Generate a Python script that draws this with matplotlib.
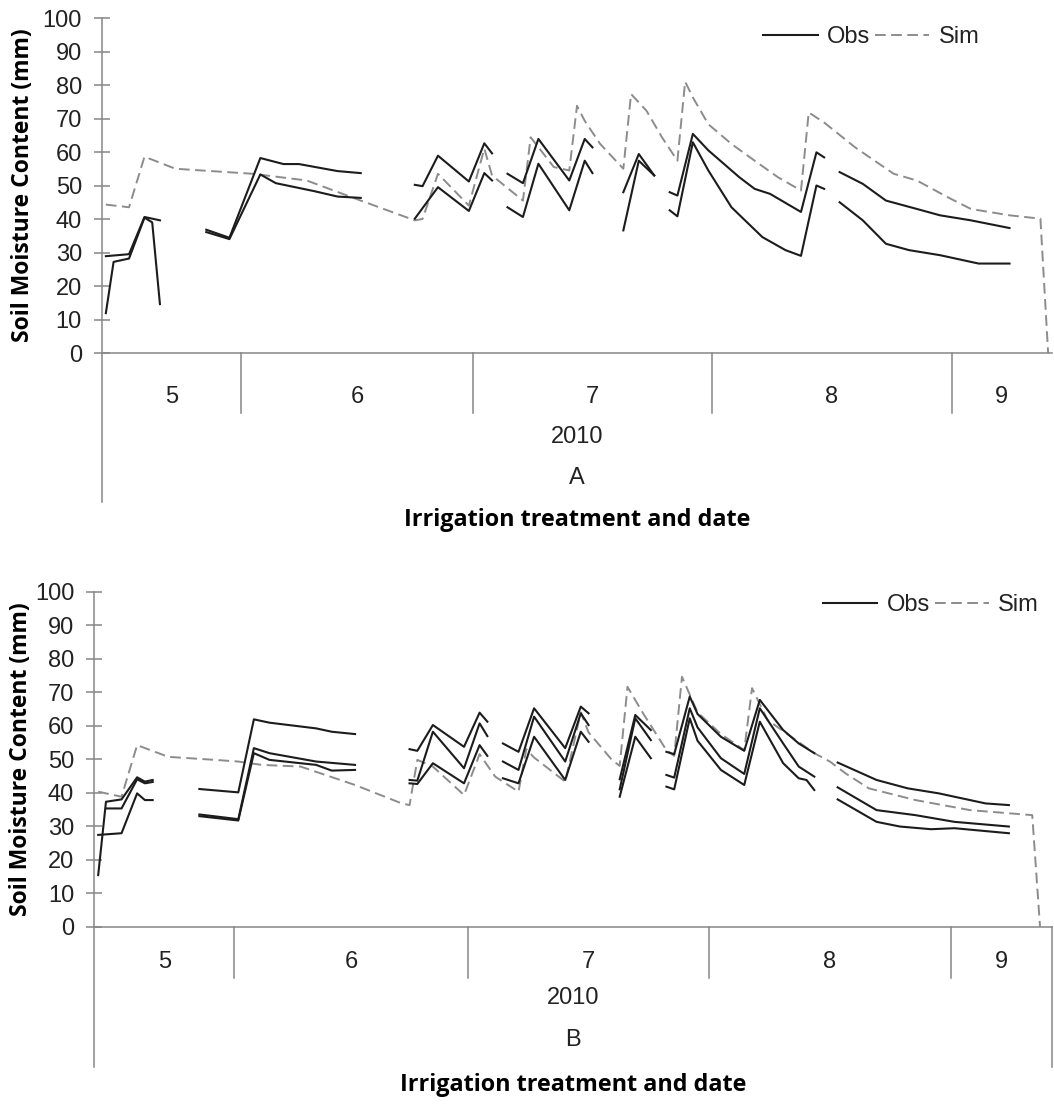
import numpy as np
import matplotlib
matplotlib.use("Agg")
import matplotlib.pyplot as plt
from matplotlib.transforms import blended_transform_factory

nan = np.nan

# category axis: one slot per day, index 0 = 14 May 2010
month_labels = ["5", "6", "7", "8", "9"]
month_edges = [-0.5, 17.5, 47.5, 78.5, 109.5, 122.5]
year_label = "2010"
y_ticks = list(range(0, 101, 10))

# ---- panel A ----
a_sim_days = [0, 3, 5, 9, 19, 26, 33, 40, 41, 43, 47, 49, 50, 54, 55, 58, 60, 61, 62, 64,
              67, 68, 70, 72, 74, 75, 76, 78, 81, 84, 87, 90, 91, 93, 97, 102, 105, 109,
              112, 117, 121, 122]
a_sim = [44.3, 43.5, 58.6, 55.0, 53.5, 51.5, 45.5, 39.6, 40.0, 53.5, 44.0, 61.0, 53.0, 45.5,
         64.4, 55.5, 54.5, 73.8, 69.3, 62.4, 55.0, 77.3, 72.3, 64.4, 57.4, 81.0, 76.3, 68.3,
         62.4, 57.4, 52.5, 48.5, 71.8, 68.8, 61.4, 53.5, 51.5, 46.5, 43.0, 41.1, 40.1, 0.0]

a_obs1_days = [0, 3, 5, 7, nan, 13, 16, 20, 23, 25, 30, 33, nan, 40, 41, 43, 47, 49, 50, nan,
               52, 54, 56, 60, 62, 63, nan, 67, 69, 71, nan, 73, 74, 76, 78, 82, 84, 86, 90,
               92, 93, nan, 95, 98, 101, 105, 108, 112, 117]
a_obs1 = [28.9, 29.5, 40.6, 39.6, nan, 36.8, 34.4, 58.2, 56.4, 56.4, 54.3, 53.7, nan, 50.2,
          49.8, 58.9, 51.2, 62.6, 59.6, nan, 53.5, 50.7, 63.9, 51.5, 63.9, 61.4, nan, 48.0,
          59.4, 53.0, nan, 48.0, 47.0, 65.4, 60.5, 52.5, 49.0, 47.5, 42.1, 59.9, 58.4, nan,
          54.0, 50.5, 45.5, 43.0, 41.1, 39.6, 37.3]

a_obs2_days = [0, 1, 3, 5, 6, 7, nan, 13, 16, 20, 22, 27, 30, 33, nan, 40, 43, 47, 49, 50, nan,
               52, 54, 56, 60, 62, 63, nan, 67, 69, 71, nan, 73, 74, 76, 78, 81, 85, 88, 90,
               92, 93, nan, 95, 98, 101, 104, 108, 113, 117]
a_obs2 = [11.9, 27.2, 28.2, 40.4, 39.0, 14.6, nan, 36.1, 34.0, 53.3, 50.7, 48.3, 46.7, 46.3,
          nan, 40.1, 49.5, 42.4, 53.7, 51.5, nan, 43.5, 40.6, 56.5, 42.6, 57.4, 53.7, nan,
          36.6, 57.4, 53.0, nan, 42.6, 40.8, 62.9, 54.5, 43.5, 34.6, 30.7, 29.0, 50.0, 49.0,
          nan, 45.0, 39.6, 32.6, 30.7, 29.2, 26.7, 26.7]

# ---- panel B ----
b_sim_days = [0, 3, 5, 9, 15, 18, 21, 26, 33, 39, 40, 41, 43, 47, 49, 51, 54, 55, 56, 60, 62,
              63, 66, 67, 68, 70, 73, 74, 75, 77, 80, 83, 84, 86, 92, 94, 96, 99, 105, 112,
              120, 121]
b_sim = [40.3, 38.8, 54.2, 50.7, 49.8, 49.3, 48.3, 47.8, 42.3, 36.8, 36.3, 49.8, 47.8, 39.3,
         51.5, 44.8, 40.3, 53.0, 50.5, 43.3, 64.0, 58.0, 49.8, 48.0, 71.6, 63.7, 52.7, 51.0,
         74.6, 64.0, 57.5, 52.7, 71.2, 61.7, 51.8, 49.3, 45.8, 41.3, 37.8, 34.8, 33.3, 0.0]

b_obs1_days = [0, 1, 3, 5, 6, 7, nan, 13, 18, 20, 22, 28, 30, 33, nan, 40, 41, 43, 47, 49, 50,
               nan, 52, 54, 56, 60, 62, 63, nan, 67, 69, 71, nan, 73, 74, 76, 77, 80, 83, 85,
               88, 90, 92, nan, 95, 100, 104, 108, 114, 117]
b_obs1 = [15.4, 37.3, 38.0, 44.6, 43.3, 43.8, nan, 41.1, 40.1, 61.9, 60.9, 59.2, 58.2, 57.5,
          nan, 53.0, 52.5, 60.2, 53.7, 63.9, 61.2, nan, 54.7, 52.2, 65.2, 53.3, 65.7, 63.7,
          nan, 44.0, 63.2, 58.7, nan, 52.2, 51.5, 68.7, 63.5, 56.7, 52.5, 67.7, 58.7, 54.7,
          51.8, nan, 49.0, 43.8, 41.3, 39.8, 36.8, 36.3]

b_obs2_days = [1, 3, 5, 6, 7, nan, 13, 18, 20, 22, 28, 33, nan, 40, 41, 43, 47, 49, 50, nan,
               52, 54, 56, 60, 62, 63, nan, 67, 69, 71, nan, 73, 74, 76, 77, 80, 83, 85, 88,
               90, 92, nan, 95, 100, 105, 110, 117]
b_obs2 = [35.3, 35.3, 44.0, 42.8, 43.2, nan, 33.5, 32.1, 53.3, 51.8, 49.3, 48.3, nan, 43.8,
          43.6, 58.2, 47.3, 60.7, 56.9, nan, 49.3, 46.8, 62.7, 49.3, 63.7, 60.2, nan, 41.0,
          62.2, 55.7, nan, 45.3, 44.5, 65.2, 59.5, 50.3, 45.6, 65.2, 54.7, 47.8, 44.8, nan,
          41.6, 34.8, 33.3, 31.3, 29.9]

b_obs3_days = [0, 3, 5, 6, 7, nan, 13, 18, 20, 22, 28, 30, 33, nan, 40, 41, 43, 47, 49, 50,
               nan, 52, 54, 56, 60, 62, 63, nan, 67, 69, 71, nan, 73, 74, 76, 77, 80, 83, 85,
               88, 90, 91, 92, nan, 95, 100, 103, 107, 110, 117]
b_obs3 = [27.4, 27.9, 39.8, 37.8, 37.8, nan, 33.0, 31.7, 51.8, 49.8, 48.3, 46.6, 46.8, nan,
          42.8, 42.6, 48.8, 42.8, 54.2, 51.0, nan, 44.3, 42.8, 56.7, 43.8, 58.2, 55.2, nan,
          38.8, 56.7, 50.3, nan, 41.8, 41.0, 62.2, 55.5, 46.8, 42.3, 61.2, 48.8, 44.3, 43.8,
          40.8, nan, 38.0, 31.3, 29.9, 29.1, 29.4, 27.9]

W, H = 1054, 1106
axis_grey = "#868686"
obs_color = "#1c1c1c"
sim_color = "#8c8c8c"
tick_font = "Liberation Sans"
title_font = "Open Sans"

fig = plt.figure(figsize=(W / 100, H / 100), dpi=100)


def panel_rect(left, right, top, bottom):
    return [left / W, 1 - bottom / H, (right - left) / W, (bottom - top) / H]


def draw_panel(ax, obs_series, sim_days, sim_vals, letter, leg_anchor, offs,
               ylab_x, right_line):
    h_sim, = ax.plot(sim_days, sim_vals, color=sim_color, lw=1.4, dashes=(5.5, 2.8), zorder=2)
    h_obs = None
    for days, vals in obs_series:
        h, = ax.plot(days, vals, color=obs_color, lw=1.5, zorder=3)
        if h_obs is None:
            h_obs = h

    ax.set_xlim(month_edges[0], month_edges[-1])
    ax.set_ylim(0, 100)
    ax.set_yticks(y_ticks)
    ax.set_xticks([])
    for s in ["top", "right"]:
        ax.spines[s].set_visible(False)
    for s in ["left", "bottom"]:
        ax.spines[s].set_color(axis_grey)
        ax.spines[s].set_linewidth(1.1)
    ax.tick_params(axis="y", direction="inout", length=11, width=1.1, color=axis_grey,
                   labelsize=17, pad=9, labelcolor="#222222")
    for lab in ax.get_yticklabels():
        lab.set_fontfamily(tick_font)

    # multi-level category axis (month / year / panel letter)
    tr = blended_transform_factory(ax.transData, ax.transAxes)
    for e in month_edges[1:-1]:
        ax.plot([e, e], [0, offs["sep"]], transform=tr, clip_on=False,
                color=axis_grey, lw=1.1)
    outer = [month_edges[0]] + ([month_edges[-1]] if right_line else [])
    for e in outer:
        ax.plot([e, e], [0, offs["outer"]], transform=tr, clip_on=False,
                color=axis_grey, lw=1.1)
    for lab, a, b in zip(month_labels, month_edges[:-1], month_edges[1:]):
        ax.text((a + b) / 2, offs["month"], lab, transform=tr, ha="center", va="center",
                fontsize=17, fontfamily=tick_font, color="#222222")
    ax.text(0.5, offs["year"], year_label, transform=ax.transAxes, ha="center",
            va="center", fontsize=17, fontfamily=tick_font, color="#222222")
    ax.text(0.5, offs["letter"], letter, transform=ax.transAxes, ha="center",
            va="center", fontsize=17, fontfamily=tick_font, color="#222222")
    ax.text(0.5, offs["xlabel"], "Irrigation treatment and date", transform=ax.transAxes,
            ha="center", va="center", fontsize=16.8, fontweight="bold",
            fontfamily=title_font)
    ax.text(ylab_x, 0.5, "Soil Moisture Content (mm)", transform=ax.transAxes,
            rotation=90, ha="center", va="center", fontsize=16.5, fontweight="bold",
            fontfamily=title_font)

    leg = ax.legend([h_obs, h_sim], ["Obs", "Sim"], ncol=2, loc="center left",
                    bbox_to_anchor=leg_anchor, frameon=False, handlelength=2.3,
                    handletextpad=0.4, columnspacing=0.2, borderpad=0, borderaxespad=0,
                    prop={"family": tick_font, "size": 17})
    for t in leg.get_texts():
        t.set_color("#222222")


ax_a = fig.add_axes(panel_rect(102, 1052, 18, 353))
draw_panel(ax_a, [(a_obs1_days, a_obs1), (a_obs2_days, a_obs2)], a_sim_days, a_sim, "A",
           (0.696, 0.943),
           {"month": -0.131, "year": -0.251, "letter": -0.373, "sep": -0.179,
            "outer": -0.445, "xlabel": -0.499},
           -0.083, False)

ax_b = fig.add_axes(panel_rect(94.3, 1051.7, 591.7, 926.7))
draw_panel(ax_b, [(b_obs1_days, b_obs1), (b_obs2_days, b_obs2), (b_obs3_days, b_obs3)],
           b_sim_days, b_sim, "B",
           (0.761, 0.960),
           {"month": -0.105, "year": -0.213, "letter": -0.338, "sep": -0.153,
            "outer": -0.419, "xlabel": -0.473},
           -0.077, True)

fig.savefig("out.png", dpi=100)
